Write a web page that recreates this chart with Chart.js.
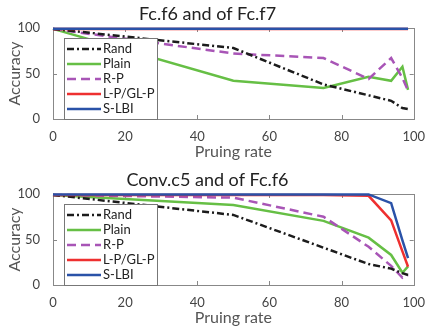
<!DOCTYPE html>
<html>
<head>
<meta charset="utf-8">
<script src="https://cdn.jsdelivr.net/npm/chart.js@4/dist/chart.umd.min.js"></script>
<style>
  html, body { margin: 0; padding: 0; background: #fff; }
  canvas { display: block; }
</style>
</head>
<body>
<canvas id="topChart" width="427" height="166"></canvas>
<canvas id="bottomChart" width="427" height="166"></canvas>
<script>
// pruning rates (x) shared by both panels
const rates = [0, 50, 75, 87.5, 93.75, 96.875, 98.4375];
const seriesNames = ['Rand', 'Plain', 'R-P', 'L-P/GL-P', 'S-LBI'];
const xTicks = [0, 20, 40, 60, 80, 100];
const yTicks = [0, 50, 100];

// panel 1: Fc.f6 and of Fc.f7
const fcRand  = [99, 78, 38, 26, 20, 12, 11];
const fcPlain = [99, 42, 34, 46.5, 42, 57.5, 32];
const fcRP    = [99, 72, 67, 44, 67, 45, 31];
const fcLP    = [99, 99, 99, 99, 99, 99, 99];
const fcSLBI  = [99.3, 99.3, 99.3, 99.3, 99.3, 99.3, 99.3];

// panel 2: Conv.c5 and of Fc.f6
const convRand  = [99, 77, 41, 23, 18, 13, 11];
const convPlain = [99, 88, 70.5, 52, 33, 13.5, 20.5];
const convRP    = [99, 96, 75, 42, 21, 8, 11];
const convLP    = [99, 99, 99, 98, 71, 37, 20];
const convSLBI  = [99.5, 99.5, 99.5, 99.5, 90, 49, 29.5];

const colors = ['#1c1c1c', '#66bf45', '#a855b6', '#ee3030', '#2a52a8'];
const dashes = [[7, 3, 2, 3], [], [9, 5], [], []];
const orders = [2, 4, 3, 1, 0];

const FONT = 'Lato, "Open Sans", sans-serif';

// box and inner ticks under the lines, legend on top (matlab style)
const framePlugin = {
  id: 'frame',
  beforeDatasetsDraw(chart) {
    const { ctx, chartArea: a, scales } = chart;
    ctx.save();
    ctx.strokeStyle = '#888';
    ctx.lineWidth = 1;
    ctx.beginPath();
    xTicks.forEach(v => {
      const px = Math.round(scales.x.getPixelForValue(v)) + 0.5;
      ctx.moveTo(px, a.bottom); ctx.lineTo(px, a.bottom - 4);
      ctx.moveTo(px, a.top); ctx.lineTo(px, a.top + 4);
    });
    yTicks.forEach(v => {
      const py = Math.round(scales.y.getPixelForValue(v)) + 0.5;
      ctx.moveTo(a.left, py); ctx.lineTo(a.left + 4, py);
      ctx.moveTo(a.right, py); ctx.lineTo(a.right - 4, py);
    });
    ctx.stroke();
    ctx.strokeRect(Math.round(a.left) + 0.5, Math.round(a.top) + 0.5,
                   Math.round(a.right - a.left), Math.round(a.bottom - a.top));
    ctx.restore();
  },
  afterDatasetsDraw(chart) {
    const { ctx, chartArea: a } = chart;
    ctx.save();
    const lx = a.left + 11, ly = a.top + 10, lw = 93, lh = a.bottom - ly;
    ctx.fillStyle = '#fff';
    ctx.fillRect(lx, ly, lw, lh);
    ctx.strokeStyle = '#777';
    ctx.lineWidth = 1;
    ctx.strokeRect(lx + 0.5, ly + 0.5, lw, lh);
    ctx.font = '13px ' + FONT;
    ctx.textBaseline = 'middle';
    chart.data.datasets.forEach((ds, i) => {
      const y = ly + 11 + i * 15;
      ctx.strokeStyle = ds.borderColor;
      ctx.lineWidth = 2.5;
      ctx.setLineDash(ds.borderDash);
      ctx.beginPath();
      ctx.moveTo(lx + 3, y);
      ctx.lineTo(lx + 37, y);
      ctx.stroke();
      ctx.setLineDash([]);
      ctx.fillStyle = '#222';
      ctx.fillText(ds.label, lx + 39, y);
    });
    ctx.restore();
  }
};

function makeChart(id, titleText, series) {
  const datasets = series.map((vals, i) => ({
    label: seriesNames[i],
    data: vals.map((v, j) => ({ x: rates[j], y: v })),
    borderColor: colors[i],
    borderDash: dashes[i],
    borderWidth: 2.5,
    pointRadius: 0,
    tension: 0,
    fill: false,
    clip: 4,
    order: orders[i]
  }));

  return new Chart(document.getElementById(id), {
    type: 'line',
    data: { datasets },
    plugins: [framePlugin],
    options: {
      responsive: false,
      animation: false,
      layout: { padding: { left: 0, right: 12, top: 0, bottom: 0 } },
      plugins: {
        legend: { display: false },
        tooltip: { enabled: false },
        title: {
          display: true,
          text: titleText,
          color: '#222',
          font: { family: FONT, size: 18, weight: 'normal' },
          padding: { top: 3, bottom: 3.4 }
        }
      },
      scales: {
        x: {
          type: 'linear',
          min: 0, max: 100,
          afterBuildTicks: s => { s.ticks = xTicks.map(v => ({ value: v })); },
          afterFit: s => { s.height = 47; },
          grid: { display: false },
          border: { display: false },
          ticks: { color: '#444', padding: 2, font: { family: FONT, size: 13 } },
          title: {
            display: true,
            text: 'Pruing rate',
            color: '#555',
            font: { family: FONT, size: 16 },
            padding: { top: 0, bottom: 5 }
          }
        },
        y: {
          min: 0, max: 100,
          afterBuildTicks: s => { s.ticks = yTicks.map(v => ({ value: v })); },
          afterFit: s => { s.width = 53; },
          grid: { display: false },
          border: { display: false },
          ticks: { color: '#444', padding: 5, font: { family: FONT, size: 13 } },
          title: {
            display: true,
            text: 'Accuracy',
            color: '#555',
            font: { family: FONT, size: 16 },
            padding: { top: 5, bottom: 0 }
          }
        }
      }
    }
  });
}

makeChart('topChart', 'Fc.f6 and of Fc.f7', [fcRand, fcPlain, fcRP, fcLP, fcSLBI]);
makeChart('bottomChart', 'Conv.c5 and of Fc.f6', [convRand, convPlain, convRP, convLP, convSLBI]);
</script>
</body>
</html>
